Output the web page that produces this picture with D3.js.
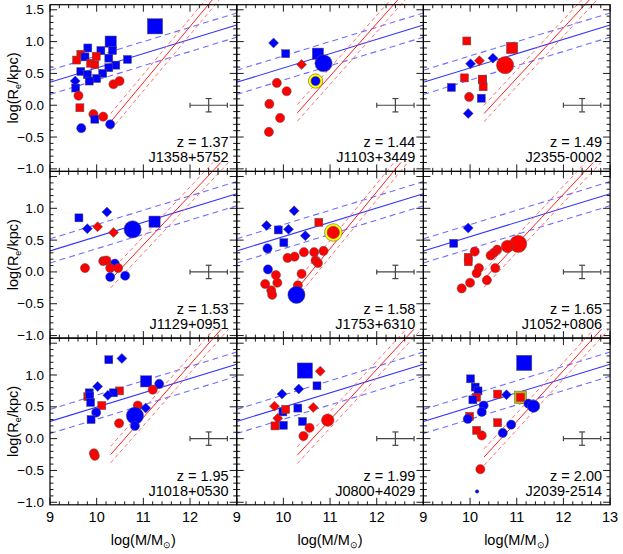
<!DOCTYPE html>
<html><head><meta charset="utf-8">
<script src="https://cdn.jsdelivr.net/npm/d3@7"></script>
<style>body{margin:0;background:#fff}text{font-family:"Liberation Sans",Arial,sans-serif}</style>
</head><body>
<svg id="c" width="623" height="554"></svg>
<script>
// panel metadata
const panelNames = ["J1358+5752","J1103+3449","J2355-0002","J1129+0951","J1753+6310","J1052+0806","J1018+0530","J0800+4029","J2039-2514"];
const redshifts = ["1.37","1.44","1.49","1.53","1.58","1.65","1.95","1.99","2.00"];
// blue relation intercept at logM=9 (slope below)
const blueIntercept = [0.36,0.36,0.36,0.33,0.33,0.33,0.27,0.27,0.27];
const blueSlope = 0.225, blueScatter = 0.19;
// red relation: start y at logM=10.3, x where it reaches y=1.58
const redStartY = [-0.26,-0.12,-0.13,-0.12,-0.26,-0.11,-0.25,-0.26,-0.29];
const redTopX = [12.39,12.36,12.46,12.48,12.36,12.46,12.5,12.62,12.64];
const xTicks = [9,10,11,12,13];
const yTicks = [-1.0,-0.5,0.0,0.5,1.0,1.5];
// points: [logM, logRe, shape(c/s/d), colour(r/b), size(1 normal,2 medium,3 large,0 tiny), ring]
const p1 = [[11.25,1.24,"s","b",3],[10.3,1.0,"s","b",2],[9.81,0.9,"s","b",1],[10.09,0.86,"s","b",1],[10.34,0.86,"s","b",1],[9.66,0.8,"s","r",1],[9.75,0.76,"s","b",1],[9.99,0.77,"s","r",1],[9.57,0.71,"s","r",1],[9.87,0.66,"s","r",1],[9.96,0.64,"s","r",1],[10.26,0.74,"s","b",1],[10.66,0.72,"s","b",1],[10.41,0.63,"s","b",1],[10.26,0.59,"s","b",1],[9.66,0.53,"s","b",1],[10.13,0.5,"s","b",1],[9.8,0.48,"s","b",1],[10.0,0.42,"s","b",1],[9.84,0.38,"s","b",1],[9.54,0.38,"d","b",1],[9.55,0.27,"s","b",1],[10.36,0.33,"c","r",1],[10.49,0.38,"c","r",1],[9.61,0.15,"c","r",1],[9.64,-0.04,"s","r",1],[9.93,-0.14,"c","r",1],[9.96,-0.22,"s","b",1],[10.14,-0.18,"c","r",1],[9.67,-0.36,"c","b",1],[10.29,-0.3,"c","b",1]];
const p2 = [[9.79,0.98,"d","b",1],[10.05,0.81,"s","b",1],[10.74,0.81,"s","b",2],[10.86,0.66,"c","b",3],[10.39,0.64,"d","r",1],[10.69,0.38,"c","b",1,1],[9.86,0.35,"c","r",1],[10.07,0.22,"c","r",1],[9.7,0.02,"c","r",1],[9.93,-0.2,"c","r",1],[9.69,-0.42,"c","r",1]];
const p3 = [[9.93,1.01,"s","r",1],[10.9,0.9,"s","r",2],[10.75,0.63,"c","r",3],[10.49,0.74,"d","b",1],[10.2,0.7,"d","r",1],[10.01,0.65,"d","b",1],[9.88,0.43,"s","r",1],[10.27,0.4,"s","b",1],[10.26,0.41,"s","r",1],[10.28,0.29,"s","r",1],[9.6,0.28,"s","b",1],[9.98,0.13,"c","r",1],[10.24,0.11,"s","b",1],[9.96,-0.13,"d","b",1]];
const p4 = [[9.62,0.85,"s","b",1],[10.22,0.94,"d","b",1],[9.8,0.68,"d","b",1],[10.02,0.71,"d","r",1],[10.77,0.67,"c","b",3],[11.24,0.79,"s","b",2],[10.36,0.62,"d","r",1],[9.75,0.06,"c","r",1],[10.14,0.17,"c","r",1],[10.21,0.18,"c","r",1],[10.39,0.13,"c","b",1],[10.29,0.06,"c","r",1],[10.46,0.06,"c","r",1],[10.29,-0.08,"c","b",1],[10.61,-0.06,"c","b",1]];
const p5 = [[10.23,0.96,"d","b",1],[10.76,0.78,"s","r",1],[9.64,0.73,"d","b",1],[9.89,0.66,"s","b",1],[10.11,0.67,"d","b",1],[11.07,0.62,"c","r",2,1],[10.47,0.57,"d","b",1],[10.01,0.46,"s","b",1],[9.66,0.37,"c","b",1],[10.44,0.31,"c","r",1],[10.66,0.31,"c","r",1],[10.86,0.33,"c","r",1],[10.24,0.24,"c","r",1],[10.09,0.22,"c","r",1],[10.69,0.18,"c","r",1],[10.74,0.14,"c","r",1],[9.67,0.04,"c","b",1],[10.39,-0.03,"c","r",1],[9.84,-0.05,"c","r",1],[9.87,-0.17,"c","r",1],[9.61,-0.19,"c","r",1],[10.31,-0.21,"c","r",1],[9.74,-0.29,"c","r",1],[9.76,-0.36,"c","r",1],[10.28,-0.36,"c","b",3]];
const p6 = [[9.96,0.69,"d","b",1],[9.65,0.45,"s","b",1],[11.03,0.44,"c","r",3],[10.8,0.4,"c","r",2],[10.58,0.35,"c","r",1],[10.51,0.3,"c","r",1],[10.44,0.26,"c","r",1],[10.1,0.32,"c","r",1],[9.96,0.23,"s","r",1],[9.96,0.16,"s","r",1],[10.19,0.06,"c","r",1],[10.54,0.06,"c","r",1],[10.14,-0.02,"c","r",1],[10.36,-0.13,"c","r",1],[10.0,-0.17,"c","r",1],[9.82,-0.26,"c","r",1]];
const p7 = [[10.26,1.24,"s","b",1],[10.54,1.26,"d","b",1],[11.06,0.9,"s","b",2],[11.34,0.86,"c","b",1],[11.2,0.77,"c","r",1],[10.02,0.82,"d","b",1],[9.84,0.72,"s","b",1],[9.81,0.66,"s","r",1],[9.85,0.67,"s","b",1],[9.87,0.57,"s","b",1],[10.49,0.75,"s","r",1],[10.36,0.72,"s","b",1],[10.24,0.68,"d","b",1],[10.11,0.52,"s","r",1],[10.88,0.52,"c","r",1],[11.05,0.48,"d","b",1],[9.99,0.41,"c","b",1],[9.88,0.3,"s","b",1],[10.82,0.36,"c","b",3],[10.48,0.24,"c","r",1],[10.82,0.2,"c","b",1],[9.94,-0.23,"c","r",1],[9.96,-0.27,"c","r",1]];
const p8 = [[10.46,1.07,"s","b",3],[10.79,1.06,"d","r",1],[10.72,0.83,"s","b",1],[10.33,0.78,"d","b",1],[9.97,0.7,"d","b",1],[9.81,0.51,"d","r",1],[9.99,0.42,"s","b",1],[10.05,0.46,"s","r",1],[10.31,0.48,"s","b",1],[10.64,0.49,"d","r",1],[9.88,0.32,"d","r",1],[10.95,0.29,"c","r",2],[10.41,0.27,"s","b",1],[10.0,0.21,"s","b",1],[9.82,0.2,"s","r",1],[10.56,0.17,"c","r",1],[10.43,0.04,"c","r",1]];
const p9 = [[11.16,1.19,"s","b",3],[10.01,0.94,"s","b",1],[10.11,0.81,"s","b",1],[10.17,0.75,"s","b",1],[10.14,0.65,"s","r",1],[10.59,0.7,"s","r",1],[10.78,0.69,"d","b",1],[11.08,0.65,"s","r",1,1],[11.25,0.55,"c","b",1],[11.36,0.51,"c","b",2],[10.06,0.61,"s","b",1],[10.29,0.52,"c","b",1],[10.25,0.42,"c","b",1],[9.99,0.35,"s","r",1],[9.95,0.31,"c","b",1],[10.59,0.25,"s","r",1],[10.88,0.22,"c","b",1],[10.7,0.09,"c","b",1],[10.14,0.13,"s","r",1],[10.25,0.05,"c","r",1],[10.22,-0.48,"c","r",1],[10.15,-0.83,"c","b",0]];
const panelPoints = [p1,p2,p3,p4,p5,p6,p7,p8,p9];

const svg = d3.select("#c");
const L0 = 50, PW = 186.7, T0 = 4.7, PH = 166.7;
const col = {r:"#ff0000", b:"#0000ff"};
const circR = [1.8,4.6,6.2,8.6], sqH = [2,4,5.6,7.6], diH = [2,5,6.5,8];

panelNames.forEach((name,i)=>{
  const c = i%3, r = Math.floor(i/3);
  const x0 = L0 + c*PW, y0 = T0 + r*PH;
  const x = d3.scaleLinear().domain([9,13]).range([x0, x0+PW]);
  const y = d3.scaleLinear().domain([-1.04,1.58]).range([y0+PH, y0]);
  const g = svg.append("g");
  const clipId = "clip"+i;
  svg.append("clipPath").attr("id",clipId).append("rect").attr("x",x0).attr("y",y0).attr("width",PW).attr("height",PH);
  const bl = g.append("g").attr("clip-path",`url(#${clipId})`);
  [[0,null],[blueScatter,"6,4"],[-blueScatter,"6,4"]].forEach(([o,da])=>{
    bl.append("line").attr("x1",x(9)).attr("x2",x(13))
      .attr("y1",y(blueIntercept[i]+o)).attr("y2",y(blueIntercept[i]+o+4*blueSlope))
      .attr("stroke",da? "#6f6fff":"#3333ff").attr("stroke-width",1.1).attr("stroke-dasharray",da);
  });
  const slope = (1.58-redStartY[i])/(redTopX[i]-10.3);
  const yEnd = 1.72;
  [[0,null],[0.13,"4,3"],[-0.13,"4,3"]].forEach(([o,da])=>{
    const xs = 10.3, ys = redStartY[i]+o;
    const xe = 10.3 + (yEnd-ys)/slope;
    g.append("line").attr("x1",x(xs)).attr("y1",y(ys)).attr("x2",x(xe)).attr("y2",y(yEnd))
      .attr("stroke",da?"#ff7070":"#ff2020").attr("stroke-width",1).attr("stroke-dasharray",da);
  });
  const eb = g.append("g").attr("stroke","#444").attr("stroke-width",1.2);
  eb.append("line").attr("x1",x(12.0)).attr("x2",x(12.8)).attr("y1",y(0)).attr("y2",y(0));
  eb.append("line").attr("x1",x(12.4)).attr("x2",x(12.4)).attr("y1",y(-0.105)).attr("y2",y(0.105));
  [[12.0,0.04],[12.8,0.04]].forEach(([xx,h])=>eb.append("line").attr("x1",x(xx)).attr("x2",x(xx)).attr("y1",y(-h)).attr("y2",y(h)));
  [-0.105,0.105].forEach(v=>eb.append("line").attr("x1",x(12.4)-3).attr("x2",x(12.4)+3).attr("y1",y(v)).attr("y2",y(v)));
  panelPoints[i].forEach(([m,re,sh,cl,sz,ring])=>{
    const px = x(m), py = y(re);
    let el;
    if(sh==="c"){
      if(ring) g.append("circle").attr("cx",px).attr("cy",py).attr("r",circR[sz]+2.6).attr("fill","#ffff00").attr("stroke","#444").attr("stroke-width",0.5);
      el = g.append("circle").attr("cx",px).attr("cy",py).attr("r",circR[sz]);
    } else if(sh==="s"){
      const h = sqH[sz];
      if(ring) g.append("rect").attr("x",px-h-2.2).attr("y",py-h-2.2).attr("width",2*h+4.4).attr("height",2*h+4.4).attr("fill","#c8b400").attr("stroke","#666").attr("stroke-width",0.5);
      el = g.append("rect").attr("x",px-h).attr("y",py-h).attr("width",2*h).attr("height",2*h);
    } else {
      const h = diH[sz];
      el = g.append("path").attr("d",`M${px},${py-h}L${px+h},${py}L${px},${py+h}L${px-h},${py}Z`);
    }
    el.attr("fill",col[cl]).attr("stroke","#555").attr("stroke-width",0.5);
  });
  g.append("rect").attr("x",x0).attr("y",y0).attr("width",PW).attr("height",PH).attr("fill","none").attr("stroke","#000").attr("stroke-width",1.2);
  const tk = g.append("g").attr("stroke","#000").attr("stroke-width",0.9);
  d3.range(9,13.001,0.2).forEach(v=>{
    const major = Math.abs(v-Math.round(v))<1e-6, len = major?7:3.5;
    tk.append("line").attr("x1",x(v)).attr("x2",x(v)).attr("y1",y0+PH).attr("y2",y0+PH-len);
    tk.append("line").attr("x1",x(v)).attr("x2",x(v)).attr("y1",y0).attr("y2",y0+len);
  });
  d3.range(-1.0,1.55,0.1).forEach(v=>{
    const major = Math.abs(v*2-Math.round(v*2))<1e-6, len = major?7:3.5;
    tk.append("line").attr("y1",y(v)).attr("y2",y(v)).attr("x1",x0).attr("x2",x0+len);
    tk.append("line").attr("y1",y(v)).attr("y2",y(v)).attr("x1",x0+PW).attr("x2",x0+PW-len);
  });
  g.append("text").attr("x",x0+PW-8).attr("y",y0+PH-24).attr("text-anchor","end").attr("font-size",14.5).text("z = "+redshifts[i]);
  g.append("text").attr("x",x0+PW-8).attr("y",y0+PH-9).attr("text-anchor","end").attr("font-size",14.5).text(name);
  if(c===0){
    const yt = r===0 ? yTicks : yTicks.slice(0,5);
    yt.forEach(v=>g.append("text").attr("x",x0-6).attr("y",y(v)+4.5).attr("text-anchor","end").attr("font-size",13.5).text(d3.format(".1f")(v)));
    const yl = g.append("text").attr("transform",`translate(18,${y0+PH/2}) rotate(-90)`).attr("text-anchor","middle").attr("font-size",14.5);
    yl.append("tspan").text("log(R");
    yl.append("tspan").attr("font-size",9).attr("dy",3).text("e");
    yl.append("tspan").attr("dy",-3).text("/kpc)");
  }
  if(r===2){
    const ticks = c===2 ? xTicks : xTicks.slice(0,4);
    ticks.forEach(v=>g.append("text").attr("x",x(v)).attr("y",y0+PH+17).attr("text-anchor","middle").attr("font-size",14.5).text(v));
    const xl = g.append("text").attr("x",x0+PW/2).attr("y",y0+PH+40).attr("text-anchor","middle").attr("font-size",14.5);
    xl.append("tspan").text("log(M/M");
    xl.append("tspan").attr("font-size",9).attr("dy",3).text("\u2299");
    xl.append("tspan").attr("dy",-3).text(")");
  }
});
</script>
</body></html>
